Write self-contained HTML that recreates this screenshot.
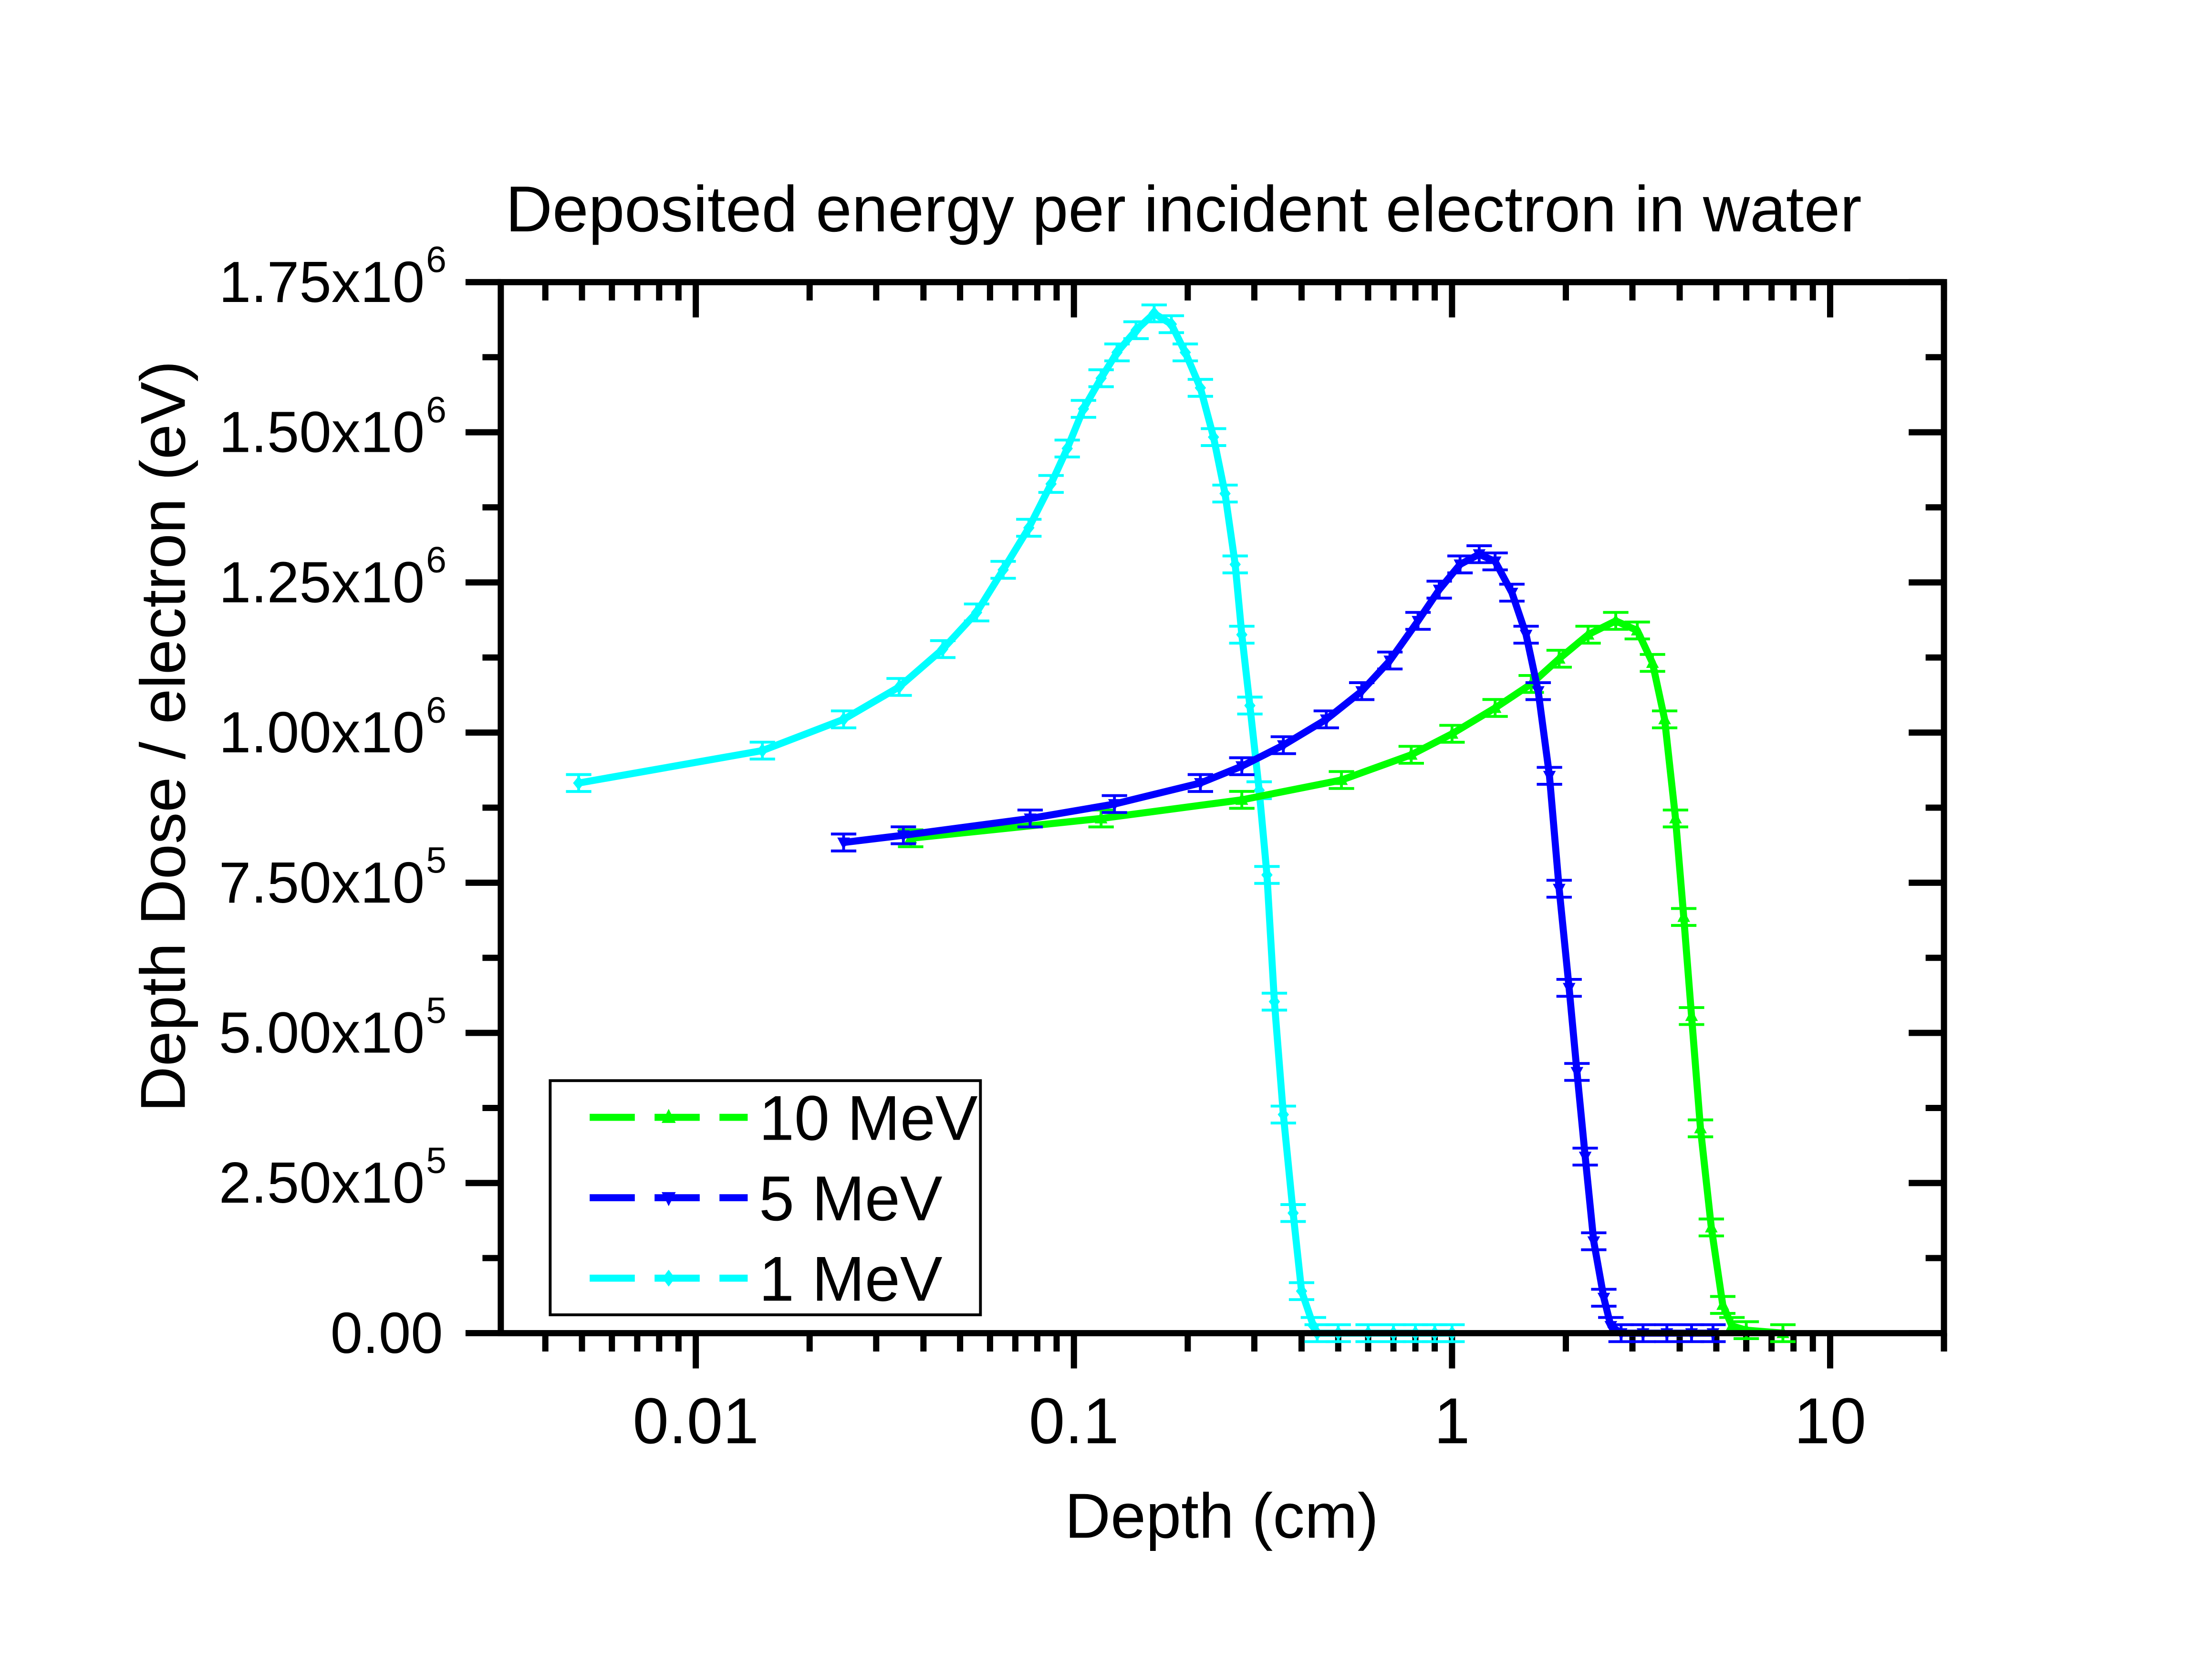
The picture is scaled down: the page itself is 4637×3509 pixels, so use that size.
<!DOCTYPE html>
<html><head><meta charset="utf-8"><style>
html,body{margin:0;padding:0;background:#fff;}
svg{display:block;}
text{font-family:"Liberation Sans",Arial,sans-serif;fill:#000;}
</style></head><body>
<svg id="chart" width="4637" height="3509" viewBox="0 0 1568 1186.6" preserveAspectRatio="none" xmlns="http://www.w3.org/2000/svg">
<rect x="0" y="0" width="1568" height="1186.6" fill="#fff"/>
<text x="839" y="164" font-size="46" text-anchor="middle">Deposited energy per incident electron in water</text>
<text x="866" y="1090" font-size="45" text-anchor="middle">Depth (cm)</text>
<text transform="translate(131,522) rotate(-90)" font-size="45" text-anchor="middle">Depth Dose / electron (eV)</text>
<g id="axes"></g>
<g id="series"></g>
<rect x="355" y="200" width="1023" height="745" fill="none" stroke="#000" stroke-width="4.4"/>
<g>
<rect x="390" y="766" width="305" height="166" fill="#fff" stroke="#000" stroke-width="2"/>
<g id="legend-items"></g>
</g>
</svg>
<script>
const xmin=0.00305, xmax=20, ymax=1.75e6;
const L=355,R=1378,T=200,B=945;
function sx(v){return L+(Math.log10(v)-Math.log10(xmin))/(Math.log10(xmax)-Math.log10(xmin))*(R-L);}
function sy(v){return B-v/ymax*(B-T);}
const NS="http://www.w3.org/2000/svg";
function mk(tag,attrs,parent){const e=document.createElementNS(NS,tag);for(const k in attrs)e.setAttribute(k,attrs[k]);parent.appendChild(e);return e;}

const yTicks=[0,0.25e6,0.5e6,0.75e6,1.0e6,1.25e6,1.5e6,1.75e6];
const yTickMant=["0.00","2.50","5.00","7.50","1.00","1.25","1.50","1.75"];
const yTickExp=["","5","5","5","6","6","6","6"];
const xTicks=[0.01,0.1,1,10];
const xTickLabels=["0.01","0.1","1","10"];

const x1=[0.0049,0.0150,0.0246,0.0345,0.045,0.0553,0.065,0.076,0.087,0.096,0.106,0.118,0.130,0.146,0.163,0.181,0.197,0.216,0.234,0.251,0.267,0.278,0.292,0.309,0.324,0.339,0.358,0.38,0.40,0.43,0.44,0.5,0.6,0.7,0.8,0.9,1.0];
const y1=[0.916,0.970,1.022,1.076,1.139,1.200,1.271,1.341,1.414,1.473,1.539,1.590,1.633,1.670,1.698,1.680,1.633,1.574,1.492,1.398,1.280,1.163,1.045,0.904,0.763,0.552,0.364,0.200,0.070,0.012,0,0,0,0,0,0,0];
const x5=[0.0246,0.0354,0.0766,0.128,0.216,0.278,0.358,0.465,0.577,0.685,0.813,0.925,1.05,1.18,1.30,1.44,1.57,1.69,1.81,1.92,2.04,2.14,2.25,2.37,2.52,2.63,2.8,3.2,3.7,4.3,4.9];
const y5=[0.817,0.829,0.857,0.881,0.916,0.944,0.979,1.022,1.069,1.120,1.186,1.238,1.280,1.297,1.285,1.233,1.163,1.069,0.928,0.740,0.575,0.435,0.294,0.153,0.059,0.012,0,0,0,0,0];
const x10=[0.037,0.118,0.278,0.51,0.78,1.0,1.30,1.62,1.92,2.29,2.71,3.09,3.39,3.65,3.9,4.1,4.3,4.54,4.85,5.2,5.5,6.0,7.5];
const y10=[0.824,0.857,0.888,0.921,0.963,0.998,1.041,1.081,1.123,1.163,1.186,1.170,1.116,1.022,0.857,0.693,0.528,0.341,0.176,0.047,0.012,0.005,0];

const ax=document.getElementById('axes');
yTicks.forEach((v,i)=>{
  const y=sy(v);
  const t=mk('line',{x1:L-25,x2:L,y1:y,y2:y,stroke:'#000','stroke-width':4.4},ax);
  
  
  const t2=mk('line',{x1:R-25,x2:R,y1:y,y2:y,stroke:'#000','stroke-width':4.4},ax);
  
  
  if(i<yTicks.length-1){
    const ym=sy(v+0.125e6);
    const m1=mk('line',{x1:L-13,x2:L,y1:ym,y2:ym,stroke:'#000','stroke-width':4.4},ax);
    
    
    const m2=mk('line',{x1:R-13,x2:R,y1:ym,y2:ym,stroke:'#000','stroke-width':4.4},ax);
    
    
  }
  const tx=mk('text',{x:yTickExp[i]?301:314,y:y+14,'font-size':41,'text-anchor':'end'},ax);
  
  
  if(yTickExp[i]){
    tx.textContent=yTickMant[i]+'x10';
    const s=mk('text',{x:302,y:y-7,'font-size':26,'text-anchor':'start'},ax);
    s.textContent=yTickExp[i];
    
    
  } else tx.textContent=yTickMant[i];
});
for(let d=-3;d<=1;d++){
  for(let m=1;m<=9;m++){
    const v=m*Math.pow(10,d);
    if(v<xmin||v>xmax)continue;
    const x=sx(v), len=(m===1)?25:13;
    const a=mk('line',{x1:x,x2:x,y1:B,y2:B+len,stroke:'#000','stroke-width':4.4},ax);
    
    
    const b=mk('line',{x1:x,x2:x,y1:T,y2:T+len,stroke:'#000','stroke-width':4.4},ax);
    
    
  }
}
[20].forEach(v=>{const x=sx(v);
  const a=mk('line',{x1:x,x2:x,y1:B,y2:B+13,stroke:'#000','stroke-width':4.4},ax);
  
  });
xTicks.forEach((v,i)=>{
  const t=mk('text',{x:sx(v),y:1023,'font-size':46,'text-anchor':'middle'},ax);
  t.textContent=xTickLabels[i];
  
  
});

const sg=document.getElementById('series');
function marker(g,x,y,type,color){
  let p;
  if(type==='up') p=`M${x},${y-5} L${x+4.5},${y+3.5} L${x-4.5},${y+3.5}Z`;
  else if(type==='down') p=`M${x},${y+5} L${x+4.5},${y-3.5} L${x-4.5},${y-3.5}Z`;
  else p=`M${x},${y-5} L${x+4},${y} L${x},${y+5} L${x-4},${y}Z`;
  const m=mk('path',{d:p,fill:color},g);
  
  
  const e=mk('path',{d:`M${x-9},${y-6}h18M${x-9},${y+6}h18M${x},${y-6}v12`,stroke:color,'stroke-width':2,fill:'none'},g);
  
  
}
function series(xs,ys,color,type,name){
  const g=mk('g',{},sg);
  
  
  const pts=xs.map((x,i)=>sx(x)+','+sy(ys[i]*1e6)).join(' ');
  const pl=mk('polyline',{points:pts,fill:'none',stroke:color,'stroke-width':5,'stroke-linejoin':'round'},g);
  
  
  xs.forEach((x,i)=>marker(g,sx(x),sy(ys[i]*1e6),type,color));
}
series(x1,y1,'#00ffff','diamond','series-1mev');
series(x10,y10,'#00ff00','up','series-10mev');
series(x5,y5,'#0000ff','down','series-5mev');

const lg=document.getElementById('legend-items');
const legNames=["10 MeV","5 MeV","1 MeV"];
const legColors=["#00ff00","#0000ff","#00ffff"];
const legTypes=["up","down","diamond"];
legNames.forEach((n,i)=>{
  const y=792+i*57;
  const g=mk('g',{},lg);
  
  
  mk('line',{x1:418,x2:530,y1:y,y2:y,stroke:legColors[i],'stroke-width':5,'stroke-dasharray':'32,14'},g);
  let p;const x=474;
  if(legTypes[i]==='up') p=`M${x},${y-6} L${x+5},${y+4} L${x-5},${y+4}Z`;
  else if(legTypes[i]==='down') p=`M${x},${y+6} L${x+5},${y-4} L${x-5},${y-4}Z`;
  else p=`M${x},${y-6} L${x+4.5},${y} L${x},${y+6} L${x-4.5},${y}Z`;
  mk('path',{d:p,fill:legColors[i]},g);
  const t=mk('text',{x:538,y:y+16,'font-size':45},g);
  t.textContent=n;
});
</script>
</body></html>
